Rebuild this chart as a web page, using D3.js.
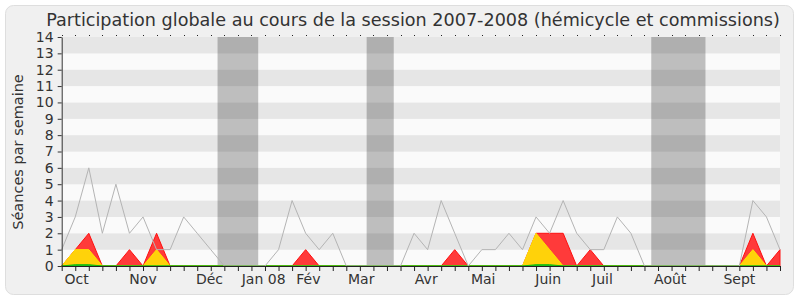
<!DOCTYPE html>
<html>
<head>
<meta charset="utf-8">
<script src="https://cdn.jsdelivr.net/npm/d3@7"></script>
<style>
body { margin: 0; background: #fff; }
</style>
</head>
<body>
<script>
// semaines d'octobre 2007 a septembre 2008
let total =      [1,3,6,2,5,2,3,1,1,3,2,1,0,0,0,0,1,4,2,1,2,0,0,0,0,0,2,1,4,2,0,1,1,2,1,3,2,4,2,1,1,3,2,0,0,0,0,0,0,0,0,4,3,1];
let hemicycle =  [0,1,1,0,0,0,0,1,0,0,0,0,0,0,0,0,0,0,0,0,0,0,0,0,0,0,0,0,0,0,0,0,0,0,0,2,1,0,0,0,0,0,0,0,0,0,0,0,0,0,0,1,0,0];
let commission = [0,0,1,0,0,1,0,1,0,0,0,0,0,0,0,0,0,0,1,0,0,0,0,0,0,0,0,0,0,1,0,0,0,0,0,0,1,2,0,1,0,0,0,0,0,0,0,0,0,0,0,1,0,1];
let questions =  [0,0.08,0.08,0,0,0,0,0,0,0,0,0,0,0,0,0,0,0,0,0,0,0,0,0,0,0,0,0,0,0,0,0,0,0,0,0.08,0.08,0,0,0,0,0,0,0,0,0,0,0,0,0,0,0,0,0];
let vacances = [[11.5,14.5],[22.5,24.5],[43.5,47.5]];
let mois = ["Oct","Nov","Déc","Jan 08","Fév","Mar","Avr","Mai","Juin","Juil","Août","Sept"];
let moisPos = [1.1,6.0,10.9,14.9,18.2,22.1,26.9,31.1,35.9,39.9,44.9,50.0];
let yTicks = d3.range(0,15);

let width = 800,
	height = 300;

let svg = d3.select("body")
			.append("svg")
			.attr("width",width)
			.attr("height",height)
			.attr("font-family","DejaVu Sans, sans-serif");

svg.append("rect")
	.attr("x",5.5).attr("y",5.5)
	.attr("width",788).attr("height",289)
	.attr("rx",8)
	.attr("fill","#f0f0f0")
	.attr("stroke","#dedede");

let x = d3.scaleLinear().domain([0,total.length-1]).range([61.7,780]);
let y = d3.scaleLinear().domain([0,14]).range([266,37]);

// bandes horizontales
svg.selectAll(".band")
	.data(d3.range(0,14))
	.enter().append("rect")
	.attr("x",x(0)).attr("width",x(total.length-1)-x(0))
	.attr("y",function(d){ return y(d+1); })
	.attr("height",function(d){ return y(d)-y(d+1); })
	.attr("fill",function(d){ return d%2 ? "#e6e6e6" : "#fafafa"; });

// vacances parlementaires
svg.selectAll(".vac")
	.data(vacances)
	.enter().append("rect")
	.attr("x",function(d){ return x(d[0]); })
	.attr("width",function(d){ return x(d[1])-x(d[0]); })
	.attr("y",y(14)).attr("height",y(0)-y(14))
	.attr("fill","#000").attr("fill-opacity",0.24);

// aires empilees : hemicycle en bas, commissions au dessus
let rows = total.map(function(d,i){
	return {i:i, hemicycle:hemicycle[i], commission:commission[i]};
});
let series = d3.stack().keys(["hemicycle","commission"])(rows);
let fills = {hemicycle:"#ffd20a", commission:"#ff3a3a"};
let strokes = {hemicycle:"#ffe400", commission:"#ff1010"};

let area = d3.area()
	.x(function(d){ return x(d.data.i); })
	.y0(y(0))
	.y1(function(d){ return y(d[1]); });

// rouge (cumul) d'abord, jaune par dessus
series.slice().reverse().forEach(function(s){
	svg.append("path")
		.datum(s)
		.attr("d",area)
		.attr("fill",fills[s.key])
		.attr("stroke",strokes[s.key])
		.attr("stroke-width",1);
});

// questions (vert), tres faible
svg.append("path")
	.datum(questions)
	.attr("d",d3.area().x(function(d,i){ return x(i); }).y0(y(0)).y1(function(d){ return y(d); }))
	.attr("fill","#22cc22")
	.attr("stroke","#11bb11")
	.attr("stroke-width",1);

// ligne grise
svg.append("path")
	.datum(total)
	.attr("d",d3.line().x(function(d,i){ return x(i); }).y(function(d){ return y(d); }))
	.attr("fill","none")
	.attr("stroke","#b4b4b4")
	.attr("stroke-width",1);

// axe y
let yAxis = svg.append("g")
	.attr("transform","translate(" + x(0) + ",0)")
	.call(d3.axisLeft(y).tickValues(yTicks).tickSize(4).tickSizeOuter(0).tickFormat(d3.format("d")));
yAxis.selectAll("text").attr("font-size",14).attr("fill","#333").attr("font-family","DejaVu Sans, sans-serif").attr("dx",-1);
yAxis.selectAll("line,path").attr("stroke","#333");

// axe x
let xAxis = svg.append("g")
	.attr("transform","translate(0," + y(0) + ")")
	.call(d3.axisBottom(x).tickValues(d3.range(0,total.length)).tickSize(5).tickSizeOuter(0).tickFormat(""));
xAxis.selectAll("line,path").attr("stroke","#222");

// points en haut
svg.selectAll(".dot")
	.data(d3.range(0,total.length))
	.enter().append("rect")
	.attr("x",function(d){ return Math.round(x(d)); })
	.attr("y",35).attr("width",1).attr("height",1)
	.attr("fill","#222");

svg.selectAll(".mois")
	.data(mois)
	.enter().append("text")
	.attr("x",function(d,i){ return x(moisPos[i]); })
	.attr("y",284)
	.attr("text-anchor","middle")
	.attr("font-size",14)
	.attr("fill","#333")
	.text(function(d){ return d; });

svg.append("text")
	.attr("transform","translate(23,152) rotate(-90)")
	.attr("text-anchor","middle")
	.attr("font-size",14.5)
	.attr("fill","#333")
	.text("Séances par semaine");

svg.append("text")
	.attr("x",413).attr("y",26)
	.attr("text-anchor","middle")
	.attr("font-size",17.6)
	.attr("fill","#333")
	.text("Participation globale au cours de la session 2007-2008 (hémicycle et commissions)");
</script>
</body>
</html>
